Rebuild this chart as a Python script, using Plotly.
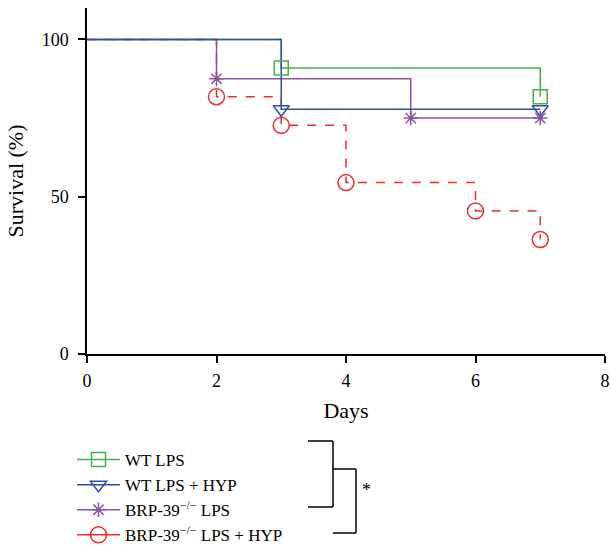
import plotly.graph_objects as go

# Survival data (days, % survival)
wt_lps_x = [0, 3, 7]
wt_lps_y = [100, 90.9, 81.8]
wt_hyp_x = [0, 3, 7]
wt_hyp_y = [100, 77.8, 77.8]
brp_lps_x = [0, 2, 5, 7]
brp_lps_y = [100, 87.5, 75, 75]
brp_hyp_x = [0, 2, 3, 4, 6, 7]
brp_hyp_y = [100, 81.8, 72.7, 54.5, 45.5, 36.4]

names = ["WT LPS", "WT LPS + HYP", "BRP-39<sup>−/−</sup> LPS", "BRP-39<sup>−/−</sup> LPS + HYP"]
colors = ["#3cb44a", "#2e4fa5", "#8d53a3", "#ef2b2d"]
symbols = ["square-open", "triangle-down-open", "asterisk-open", "circle-open"]
sizes = [14, 14, 12, 16]
dashes = ["solid", "solid", "solid", "dash"]
series = [(wt_lps_x, wt_lps_y), (wt_hyp_x, wt_hyp_y), (brp_lps_x, brp_lps_y), (brp_hyp_x, brp_hyp_y)]

FONT = "Liberation Serif"
fig = go.Figure()
# step lines (drawn so that blue ends up on top at 100 %)
for i in [3, 2, 0, 1]:
    xs, ys = series[i]
    fig.add_trace(go.Scatter(x=xs, y=ys, mode="lines",
                             line=dict(color=colors[i], width=1.5, dash=dashes[i], shape="hv"),
                             showlegend=False, hoverinfo="skip"))
for i in range(4):
    xs, ys = series[i]
    fig.add_trace(go.Scatter(x=xs[1:], y=ys[1:], mode="markers",
                             marker=dict(symbol=symbols[i], size=sizes[i], color=colors[i],
                                         line=dict(width=1.5, color=colors[i])),
                             showlegend=False))
for i in range(4):
    fig.add_trace(go.Scatter(x=[None], y=[None], mode="lines+markers", name=names[i],
                             line=dict(color=colors[i], width=1.5),
                             marker=dict(symbol=symbols[i], size=sizes[i], color=colors[i],
                                         line=dict(width=1.5, color=colors[i]))))

W, H = 611, 545
L, R, T, B = 87, 6, 8, 191
pw, ph = W - L - R, H - T - B

def px(x):
    return (x - L) / pw

def py(y):
    return (H - B - y) / ph

line = dict(color="black", width=1.5)
shapes = []
for pts in [[(308, 441), (333, 441), (333, 507), (308, 507)],
            [(333, 469), (356, 469), (356, 533), (333, 533)]]:
    for (x0, y0), (x1, y1) in zip(pts[:-1], pts[1:]):
        shapes.append(dict(type="line", xref="paper", yref="paper",
                           x0=px(x0), y0=py(y0), x1=px(x1), y1=py(y1), line=line))

fig.update_layout(
    width=W, height=H,
    margin=dict(l=L, r=R, t=T, b=B, autoexpand=False),
    plot_bgcolor="white", paper_bgcolor="white",
    font=dict(family=FONT, size=18, color="black"),
    xaxis=dict(range=[0, 8], tickvals=[0, 2, 4, 6, 8], showgrid=False, zeroline=False,
               showline=True, linecolor="black", linewidth=1.5, ticks="outside", ticklen=7,
               tickwidth=1.5, tickcolor="black", ticklabelstandoff=3,
               title=dict(text="Days", standoff=12)),
    yaxis=dict(range=[0, 110], tickvals=[0, 50, 100], showgrid=False, zeroline=False,
               showline=True, linecolor="black", linewidth=1.5, ticks="outside", ticklen=7,
               tickwidth=1.5, tickcolor="black", ticklabelstandoff=6,
               title=dict(text="Survival (%)", standoff=12)),
    legend=dict(x=px(72), y=py(442), xanchor="left", yanchor="top", bgcolor="rgba(0,0,0,0)",
                font=dict(family=FONT, size=17), tracegroupgap=0, itemwidth=43),
    shapes=shapes,
    annotations=[dict(text="*", x=px(366), y=py(502), xref="paper", yref="paper",
                      showarrow=False, font=dict(family=FONT, size=18))],
)

fig.write_html("out.html", config={"displayModeBar": False},
               post_script="document.body.style.margin='0px';")
